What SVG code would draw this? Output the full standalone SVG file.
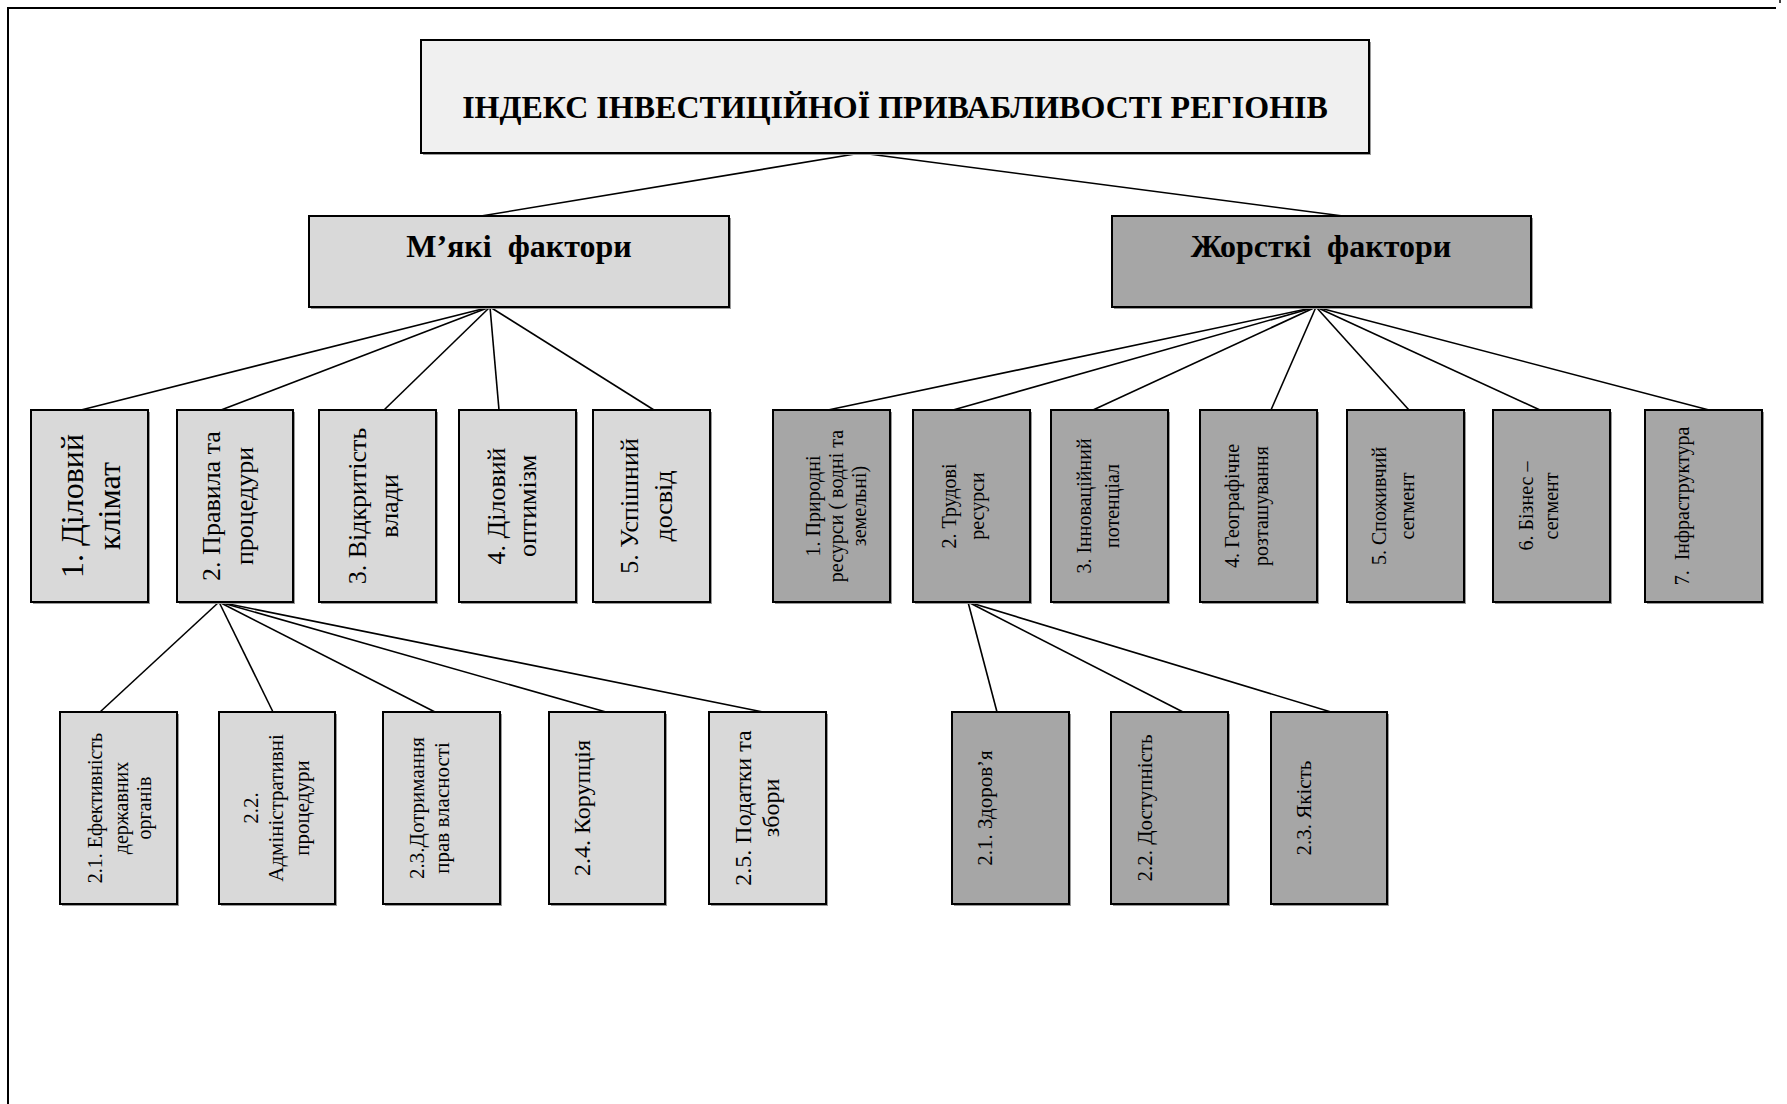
<svg xmlns="http://www.w3.org/2000/svg" width="1787" height="1104" viewBox="0 0 1787 1104">
<style>
.bg{fill:#ffffff}
.frame{fill:none;stroke:#000;stroke-width:2}
.sh{fill:#9a9a9a}
.box{stroke:#000;stroke-width:2}
.main{fill:#f0f0f0}
.soft{fill:#d9d9d9}
.hard{fill:#a6a6a6}
.t{font-family:"Liberation Serif","Times New Roman",serif;fill:#000}
.b{font-weight:bold}
.v{text-anchor:middle}
.c line{stroke:#000;stroke-width:1.6}
</style>
<rect class="bg" x="0" y="0" width="1787" height="1104"/>
<path class="frame" d="M8 1110 V8 H1776"/>
<line x1="1780" y1="0" x2="1780" y2="3" stroke="#000" stroke-width="1.5"/>

<g id="connectors" class="c">
  <line x1="861" y1="153" x2="481" y2="216"/>
  <line x1="861" y1="153" x2="1343" y2="216"/>
  <line x1="490" y1="307" x2="81" y2="410"/>
  <line x1="490" y1="307" x2="221" y2="410"/>
  <line x1="490" y1="307" x2="384" y2="410"/>
  <line x1="490" y1="307" x2="499" y2="410"/>
  <line x1="490" y1="307" x2="654" y2="410"/>
  <line x1="1316" y1="307" x2="828" y2="410"/>
  <line x1="1316" y1="307" x2="953" y2="410"/>
  <line x1="1316" y1="307" x2="1093" y2="410"/>
  <line x1="1316" y1="307" x2="1271" y2="410"/>
  <line x1="1316" y1="307" x2="1409" y2="410"/>
  <line x1="1316" y1="307" x2="1540" y2="410"/>
  <line x1="1316" y1="307" x2="1709" y2="410"/>
  <line x1="219" y1="602" x2="100" y2="712"/>
  <line x1="219" y1="602" x2="273" y2="712"/>
  <line x1="219" y1="602" x2="435" y2="712"/>
  <line x1="219" y1="602" x2="606" y2="712"/>
  <line x1="219" y1="602" x2="763" y2="712"/>
  <line x1="968" y1="602" x2="997" y2="712"/>
  <line x1="968" y1="602" x2="1183" y2="712"/>
  <line x1="968" y1="602" x2="1331" y2="712"/>
</g>

<g id="root">
  <rect class="sh" x="423" y="42" width="948" height="113"/>
  <rect class="box main" x="421" y="40" width="948" height="113"/>
  <text class="t b" x="895" y="118" font-size="32" text-anchor="middle">ІНДЕКС ІНВЕСТИЦІЙНОЇ ПРИВАБЛИВОСТІ РЕГІОНІВ</text>
</g>

<g id="soft">
  <rect class="sh" x="311" y="218" width="420" height="91"/>
  <rect class="box soft" x="309" y="216" width="420" height="91"/>
  <text class="t b" x="519" y="257" font-size="32" text-anchor="middle" xml:space="preserve">М’які  фактори</text>
</g>

<g id="hard">
  <rect class="sh" x="1114" y="218" width="419" height="91"/>
  <rect class="box hard" x="1112" y="216" width="419" height="91"/>
  <text class="t b" x="1321" y="257" font-size="32" text-anchor="middle" xml:space="preserve">Жорсткі  фактори</text>
</g>

<!-- soft level 2 -->
<g id="s1">
  <rect class="sh" x="33" y="412" width="117" height="192"/>
  <rect class="box soft" x="31" y="410" width="117" height="192"/>
  <text class="t v" font-size="32" transform="translate(31,506) rotate(-90)"><tspan x="0" y="52">1. Діловий</tspan><tspan x="0" y="89">клімат</tspan></text>
</g>
<g id="s2">
  <rect class="sh" x="179" y="412" width="116" height="192"/>
  <rect class="box soft" x="177" y="410" width="116" height="192"/>
  <text class="t v" font-size="26" transform="translate(177,506) rotate(-90)"><tspan x="0" y="43">2. Правила та</tspan><tspan x="0" y="76">процедури</tspan></text>
</g>
<g id="s3">
  <rect class="sh" x="321" y="412" width="117" height="192"/>
  <rect class="box soft" x="319" y="410" width="117" height="192"/>
  <text class="t v" font-size="26" transform="translate(319,506) rotate(-90)"><tspan x="0" y="47">3. Відкритість</tspan><tspan x="0" y="79">влади</tspan></text>
</g>
<g id="s4">
  <rect class="sh" x="461" y="412" width="117" height="192"/>
  <rect class="box soft" x="459" y="410" width="117" height="192"/>
  <text class="t v" font-size="26" transform="translate(459,506) rotate(-90)"><tspan x="0" y="46">4. Діловий</tspan><tspan x="0" y="77">оптимізм</tspan></text>
</g>
<g id="s5">
  <rect class="sh" x="595" y="412" width="117" height="192"/>
  <rect class="box soft" x="593" y="410" width="117" height="192"/>
  <text class="t v" font-size="26" transform="translate(593,506) rotate(-90)"><tspan x="0" y="45">5. Успішний</tspan><tspan x="0" y="79">досвід</tspan></text>
</g>

<!-- hard level 2 -->
<g id="h1">
  <rect class="sh" x="775" y="412" width="117" height="192"/>
  <rect class="box hard" x="773" y="410" width="117" height="192"/>
  <text class="t v" font-size="20" transform="translate(773,506) rotate(-90)"><tspan x="0" y="47">1. Природні</tspan><tspan x="0" y="70">ресурси ( водні  та</tspan><tspan x="0" y="93">земельні)</tspan></text>
</g>
<g id="h2">
  <rect class="sh" x="915" y="412" width="117" height="192"/>
  <rect class="box hard" x="913" y="410" width="117" height="192"/>
  <text class="t v" font-size="20" transform="translate(913,506) rotate(-90)"><tspan x="0" y="43">2. Трудові</tspan><tspan x="0" y="71">ресурси</tspan></text>
</g>
<g id="h3">
  <rect class="sh" x="1053" y="412" width="117" height="192"/>
  <rect class="box hard" x="1051" y="410" width="117" height="192"/>
  <text class="t v" font-size="20" transform="translate(1051,506) rotate(-90)"><tspan x="0" y="40">3. Інноваційний</tspan><tspan x="0" y="68">потенціал</tspan></text>
</g>
<g id="h4">
  <rect class="sh" x="1202" y="412" width="117" height="192"/>
  <rect class="box hard" x="1200" y="410" width="117" height="192"/>
  <text class="t v" font-size="20" transform="translate(1200,506) rotate(-90)"><tspan x="0" y="39">4. Географічне</tspan><tspan x="0" y="68">розташування</tspan></text>
</g>
<g id="h5">
  <rect class="sh" x="1349" y="412" width="117" height="192"/>
  <rect class="box hard" x="1347" y="410" width="117" height="192"/>
  <text class="t v" font-size="20" transform="translate(1347,506) rotate(-90)"><tspan x="0" y="39">5. Споживчий</tspan><tspan x="0" y="67">сегмент</tspan></text>
</g>
<g id="h6">
  <rect class="sh" x="1495" y="412" width="117" height="192"/>
  <rect class="box hard" x="1493" y="410" width="117" height="192"/>
  <text class="t v" font-size="20" transform="translate(1493,506) rotate(-90)"><tspan x="0" y="40">6. Бізнес –</tspan><tspan x="0" y="65">сегмент</tspan></text>
</g>
<g id="h7">
  <rect class="sh" x="1647" y="412" width="117" height="192"/>
  <rect class="box hard" x="1645" y="410" width="117" height="192"/>
  <text class="t v" font-size="20" transform="translate(1645,506) rotate(-90)" xml:space="preserve"><tspan x="0" y="44">7.  Інфраструктура</tspan></text>
</g>

<!-- soft level 3 -->
<g id="s2-1">
  <rect class="sh" x="62" y="714" width="117" height="192"/>
  <rect class="box soft" x="60" y="712" width="117" height="192"/>
  <text class="t v" font-size="20" transform="translate(60,808) rotate(-90)"><tspan x="0" y="42">2.1. Ефективність</tspan><tspan x="0" y="68">державних</tspan><tspan x="0" y="91">органів</tspan></text>
</g>
<g id="s2-2">
  <rect class="sh" x="221" y="714" width="116" height="192"/>
  <rect class="box soft" x="219" y="712" width="116" height="192"/>
  <text class="t v" font-size="21" transform="translate(219,808) rotate(-90)"><tspan x="0" y="39">2.2.</tspan><tspan x="0" y="64">Адміністративні</tspan><tspan x="0" y="90">процедури</tspan></text>
</g>
<g id="s2-3">
  <rect class="sh" x="385" y="714" width="117" height="192"/>
  <rect class="box soft" x="383" y="712" width="117" height="192"/>
  <text class="t v" font-size="21" transform="translate(383,808) rotate(-90)"><tspan x="0" y="41">2.3.Дотримання</tspan><tspan x="0" y="66">прав власності</tspan></text>
</g>
<g id="s2-4">
  <rect class="sh" x="551" y="714" width="116" height="192"/>
  <rect class="box soft" x="549" y="712" width="116" height="192"/>
  <text class="t v" font-size="24" transform="translate(549,808) rotate(-90)"><tspan x="0" y="41">2.4. Корупція</tspan></text>
</g>
<g id="s2-5">
  <rect class="sh" x="711" y="714" width="117" height="192"/>
  <rect class="box soft" x="709" y="712" width="117" height="192"/>
  <text class="t v" font-size="24" transform="translate(709,808) rotate(-90)"><tspan x="0" y="42">2.5. Податки та</tspan><tspan x="0" y="70">збори</tspan></text>
</g>

<!-- hard level 3 -->
<g id="h2-1">
  <rect class="sh" x="954" y="714" width="117" height="192"/>
  <rect class="box hard" x="952" y="712" width="117" height="192"/>
  <text class="t v" font-size="21" transform="translate(952,808) rotate(-90)"><tspan x="0" y="40">2.1. Здоров’я</tspan></text>
</g>
<g id="h2-2">
  <rect class="sh" x="1113" y="714" width="117" height="192"/>
  <rect class="box hard" x="1111" y="712" width="117" height="192"/>
  <text class="t v" font-size="21" transform="translate(1111,808) rotate(-90)"><tspan x="0" y="41">2.2. Доступність</tspan></text>
</g>
<g id="h2-3">
  <rect class="sh" x="1273" y="714" width="116" height="192"/>
  <rect class="box hard" x="1271" y="712" width="116" height="192"/>
  <text class="t v" font-size="21" transform="translate(1271,808) rotate(-90)"><tspan x="0" y="40">2.3. Якість</tspan></text>
</g>
</svg>
